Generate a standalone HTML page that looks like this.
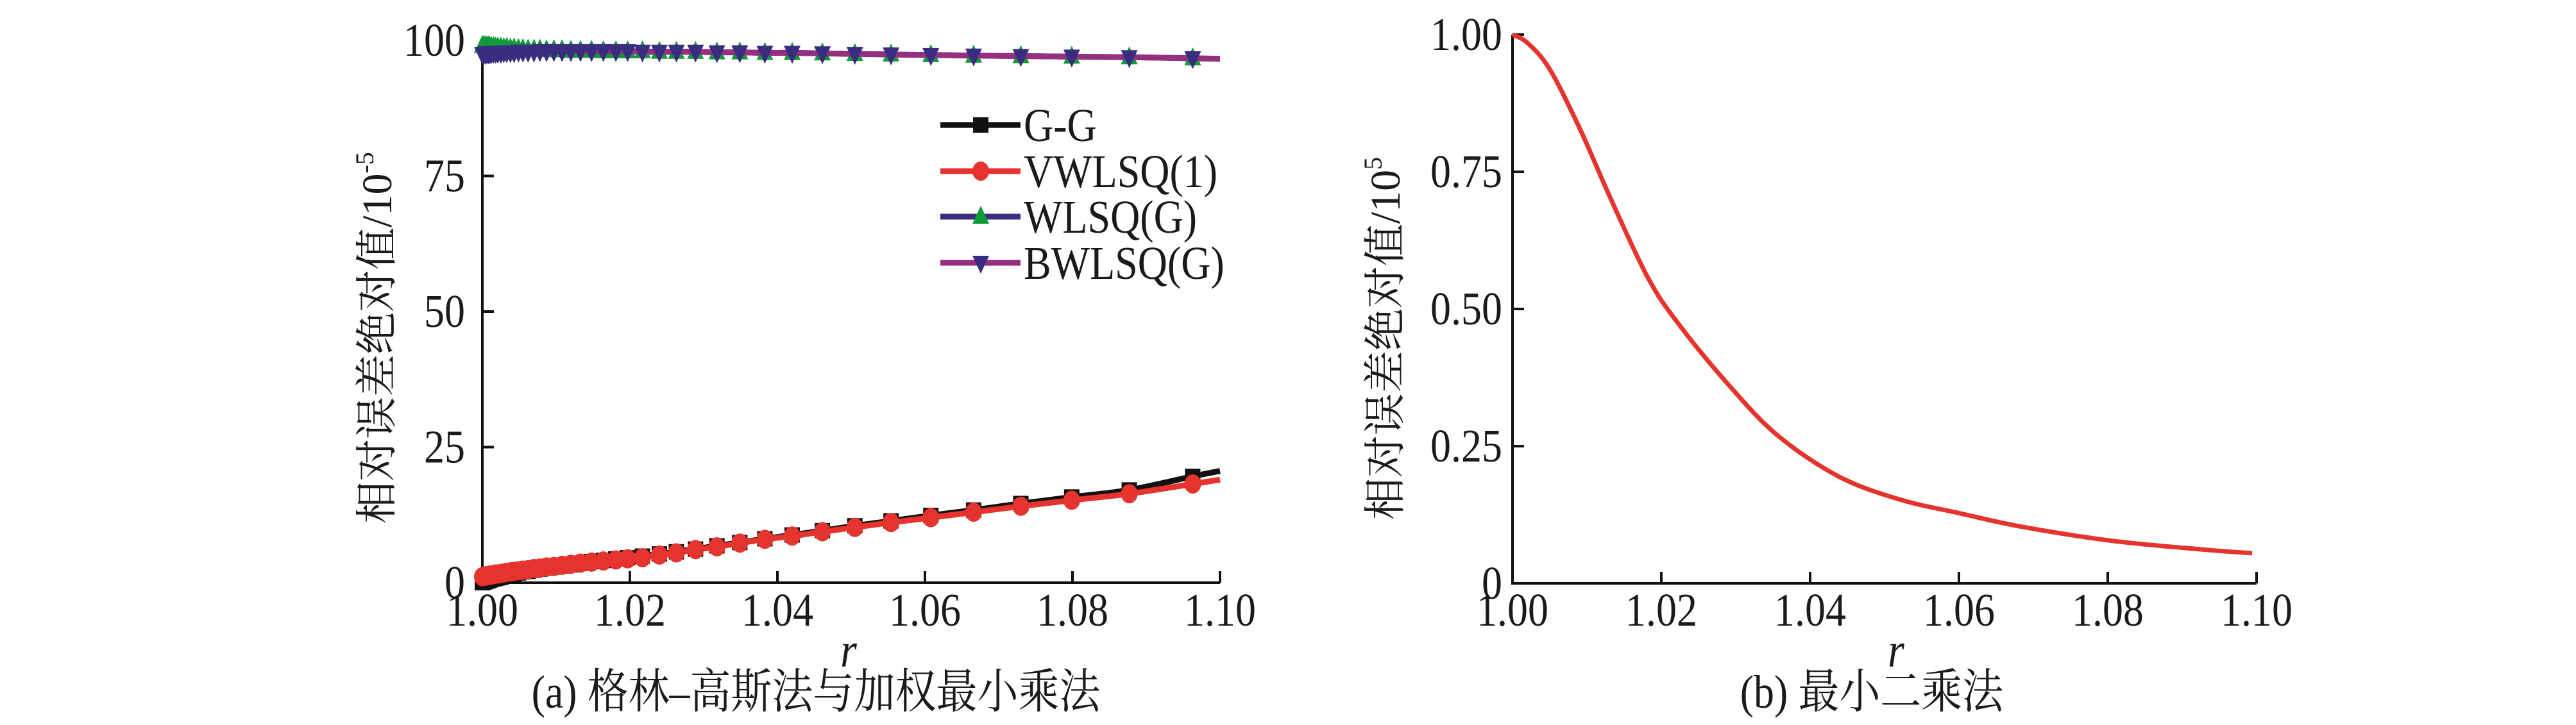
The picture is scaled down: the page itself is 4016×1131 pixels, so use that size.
<!DOCTYPE html>
<html><head><meta charset="utf-8">
<style>
html,body{margin:0;padding:0;background:#fff;}
svg{display:block;}
text{font-family:"Liberation Serif","Noto Serif CJK SC","Noto Sans CJK SC",serif;fill:#1a1a1a;}
</style></head>
<body>
<svg id="fig" width="4016" height="1131" viewBox="0 0 4016 1131" xmlns="http://www.w3.org/2000/svg" font-family="'Liberation Serif','Noto Serif CJK SC',serif">
<g id="left"></g>
<g id="right"></g>
</svg>
<script>
// ---- chart (a) data ----
const rA = [1.0000,1.0002,1.0004,1.0006,1.0008,1.0010,1.0012,1.0015,1.0018,1.0021,1.0025,1.0029,1.0033,1.0038,1.0043,1.0049,1.0055,1.0062,1.0070,1.0078,1.0087,1.0097,1.0108,1.0120,1.0133,1.0148,1.0164,1.0181,1.0197,1.0217,1.0240,1.0263,1.0289,1.0318,1.0349,1.0383,1.0420,1.0461,1.0505,1.0554,1.0608,1.0666,1.0730,1.0799,1.0877,1.0963,1.1000];
const ggVals = [0.0,0.1,0.2,0.3,0.4,0.5,0.6,0.7,0.8,0.9,1.0,1.2,1.3,1.5,1.6,1.8,2.0,2.1,2.3,2.5,2.7,2.9,3.1,3.3,3.6,3.9,4.1,4.4,4.6,4.9,5.3,5.7,6.2,6.8,7.4,8.1,8.8,9.6,10.5,11.4,12.4,13.4,14.6,15.8,17.1,19.6,20.6];
const vwVals = [1.1,1.2,1.2,1.3,1.3,1.4,1.4,1.5,1.6,1.6,1.7,1.8,1.9,2.0,2.1,2.2,2.3,2.4,2.6,2.7,2.9,3.0,3.2,3.4,3.6,3.8,4.0,4.2,4.4,4.6,5.1,5.5,6.1,6.6,7.3,8.0,8.6,9.4,10.2,11.1,12.0,13.0,14.1,15.2,16.4,18.2,19.0];
const wlVals = [99.0,99.0,98.9,98.9,98.9,98.8,98.8,98.8,98.7,98.7,98.7,98.6,98.6,98.5,98.5,98.4,98.4,98.3,98.3,98.3,98.2,98.2,98.2,98.1,98.1,98.1,98.0,98.0,98.0,98.0,97.9,97.9,97.9,97.8,97.8,97.7,97.7,97.6,97.5,97.4,97.3,97.2,97.1,97.0,96.9,96.7,96.6];
const bwVals = [97.5,97.5,97.5,97.6,97.6,97.6,97.6,97.7,97.7,97.7,97.7,97.8,97.8,97.8,97.8,97.9,97.9,97.9,97.9,98.0,98.0,98.0,98.0,98.0,98.0,98.0,98.0,98.0,98.0,97.9,97.9,97.9,97.9,97.8,97.8,97.7,97.7,97.6,97.5,97.4,97.3,97.2,97.1,97.0,96.9,96.7,96.6];
const xTicksA = [1.00,1.02,1.04,1.06,1.08,1.10];
const xTickLabels = ["1.00","1.02","1.04","1.06","1.08","1.10"];
const yTicksA = [0,25,50,75,100];
const yTickLabelsA = ["0","25","50","75","100"];
const legendLabels = ["G-G","VWLSQ(1)","WLSQ(G)","BWLSQ(G)"];
// ---- chart (b) data ----
const rB = [1.000,1.002,1.005,1.0091,1.0132,1.0182,1.0223,1.0289,1.0355,1.0438,1.052,1.060,1.0685,1.0809,1.0933,1.0994];
const lsVals = [1.000,0.985,0.937,0.827,0.701,0.557,0.473,0.364,0.271,0.195,0.153,0.128,0.103,0.077,0.061,0.055];
const yTicksB = [0,0.25,0.5,0.75,1.0];
const yTickLabelsB = ["0","0.25","0.50","0.75","1.00"];

const NS="http://www.w3.org/2000/svg";
const FF="'Liberation Serif','Noto Serif CJK SC',serif";
function mk(parent,tag,attrs,txt){const e=document.createElementNS(NS,tag);for(const k in attrs)e.setAttribute(k,attrs[k]);if(txt!==undefined)e.textContent=txt;parent.appendChild(e);return e;}
function txt(parent,x,y,size,anchor,s,extra){
  const a=Object.assign({x:0,y:0,'font-size':size,'text-anchor':anchor,'font-family':FF,transform:`translate(${x},${y}) scale(1,1.15)`},extra||{});
  return mk(parent,'text',a,s);
}

function axes(g,x0,x1,y0,y1,xmin,xmax,ymin,ymax,yT,yL,labelRightGap){
  const sx=v=>x0+(v-xmin)/(xmax-xmin)*(x1-x0);
  const sy=v=>y0-(v-ymin)/(ymax-ymin)*(y0-y1);
  const ax=mk(g,'path',{d:`M${x0},${y1} L${x0},${y0} L${x1},${y0}`,fill:'none',stroke:'#111','stroke-width':4});
  
  
  xTicksA.forEach((t,i)=>{
    const tk=mk(g,'line',{x1:sx(t),x2:sx(t),y1:y0,y2:y0-18,stroke:'#111','stroke-width':4});
    
    
    const tl=txt(g,sx(t),976,64,'middle',xTickLabels[i]);
    
    
  });
  yT.forEach((t,i)=>{
    const tk=mk(g,'line',{x1:x0,x2:x0+18,y1:sy(t),y2:sy(t),stroke:'#111','stroke-width':4});
    
    
    const tl=txt(g,x0-labelRightGap,sy(t)+24,64,'end',yL[i]);
    
    
  });
  return {sx,sy};
}
function smoothPath(pts){
  let d='M'+pts[0][0].toFixed(1)+','+pts[0][1].toFixed(1);
  for(let i=0;i<pts.length-1;i++){
    const p0=pts[Math.max(0,i-1)],p1=pts[i],p2=pts[i+1],p3=pts[Math.min(pts.length-1,i+2)];
    const c1=[p1[0]+(p2[0]-p0[0])/6,p1[1]+(p2[1]-p0[1])/6];
    const c2=[p2[0]-(p3[0]-p1[0])/6,p2[1]-(p3[1]-p1[1])/6];
    d+=` C${c1[0].toFixed(1)},${c1[1].toFixed(1)} ${c2[0].toFixed(1)},${c2[1].toFixed(1)} ${p2[0].toFixed(1)},${p2[1].toFixed(1)}`;
  }
  return d;
}

// ---- chart (a) ----
const gA=document.getElementById('left');
const A=axes(gA,752,1902,909,63,1.0,1.1,0,100,yTicksA,yTickLabelsA,27);
function drawSeries(g,xs,ys,color,name,sc){
  const d=smoothPath(xs.map((x,i)=>[sc.sx(x),sc.sy(ys[i])]));
  const p=mk(g,'path',{d,fill:'none',stroke:color,'stroke-width':9,'stroke-linejoin':'round'});
  
  
}
function marker(g,type,cx,cy,fill){
  let e;
  if(type==='sq')e=mk(g,'rect',{x:cx-12,y:cy-12,width:24,height:24,fill});
  else if(type==='ci')e=mk(g,'ellipse',{cx,cy,rx:13,ry:15,fill});
  else if(type==='up')e=mk(g,'polygon',{points:`${cx},${cy-17} ${cx-13},${cy+11} ${cx+13},${cy+11}`,fill});
  else e=mk(g,'polygon',{points:`${cx},${cy+17} ${cx-13},${cy-11} ${cx+13},${cy-11}`,fill});
  return e;
}
const seriesA=[
  {vals:wlVals,line:'#3a2c7e',mk:'up',mf:'#109a3a',name:'wlsq-g'},
  {vals:bwVals,line:'#93307f',mk:'dn',mf:'#3a2c7e',name:'bwlsq-g'},
  {vals:ggVals,line:'#111111',mk:'sq',mf:'#111111',name:'g-g'},
  {vals:vwVals,line:'#e5332e',mk:'ci',mf:'#e5332e',name:'vwlsq-1'}
];
seriesA.forEach(s=>{
  drawSeries(gA,rA,s.vals,s.line,s.name,A);
  rA.forEach((r,i)=>{
    if(i===rA.length-1)return;
    const m=marker(gA,s.mk,A.sx(r),A.sy(s.vals[i]),s.mf);
    
    
  });
});
// legend
const legSpec=[{c:'#111111',m:'sq',f:'#111111'},{c:'#e5332e',m:'ci',f:'#e5332e'},{c:'#3a2c7e',m:'up',f:'#109a3a'},{c:'#93307f',m:'dn',f:'#3a2c7e'}];
const legY=[195,267,338,410];
const lg=mk(gA,'g',{});


legendLabels.forEach((lab,i)=>{
  const eg=mk(lg,'g',{});
  
  
  mk(eg,'line',{x1:1466,x2:1591,y1:legY[i],y2:legY[i],stroke:legSpec[i].c,'stroke-width':9});
  marker(eg,legSpec[i].m,1529,legY[i],legSpec[i].f);
  txt(eg,1596,legY[i]+25,64,'start',lab);
});
// titles (a)
const ytA=mk(gA,'text',{x:0,y:0,'font-size':66,'font-family':FF,'text-anchor':'middle',transform:'translate(610,527) rotate(-90)'});


ytA.innerHTML='相对误差绝对值/10<tspan dy="-28" font-size="40">-5</tspan>';
const xtA=txt(gA,1323,1040,66,'middle','r',{'font-style':'italic'});


const capA=txt(gA,1272,1104,64,'middle','(a) 格林–高斯法与加权最小乘法');



// ---- chart (b) ----
const gB=document.getElementById('right');
const B=axes(gB,2358,3518,910,54,1.0,1.1,0,1.0,yTicksB,yTickLabelsB,16);
const dB=smoothPath(rB.map((x,i)=>[B.sx(x),B.sy(lsVals[i])]));
const pB=mk(gB,'path',{d:dB,fill:'none',stroke:'#e5332e','stroke-width':7,'stroke-linejoin':'round'});


const ytB=mk(gB,'text',{x:0,y:0,'font-size':66,'font-family':FF,'text-anchor':'middle',transform:'translate(2182,528) rotate(-90)'});


ytB.innerHTML='相对误差绝对值/10<tspan dy="-28" font-size="40">5</tspan>';
const xtB=txt(gB,2956,1040,66,'middle','r',{'font-style':'italic'});


const capB=txt(gB,2918,1104,64,'middle','(b) 最小二乘法');


</script>
</body></html>
